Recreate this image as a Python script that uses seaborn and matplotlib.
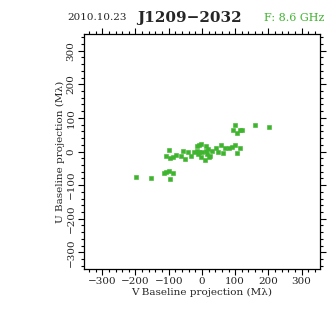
import matplotlib
matplotlib.use("Agg")
import matplotlib.pyplot as plt
from matplotlib.ticker import MultipleLocator
import seaborn as sns
import pandas as pd

# UV coverage samples (M-lambda)
v_proj = [-198, -153, -115, -107, -99, -87, -95, -107, -99, -95, -87, -79,
          -63, -56, -50, -42, -34, -24, -16, -16, -8, -2, -12, -4, -8, 0,
          8, 12, 16, 20, 24, 30, 12, 18, 42, 48, 56, 62, 69, 81, 89, 99,
          114, 107, 99, 94, 106, 114, 122, 160, 203]
u_proj = [-76, -78, -65, -60, -58, -65, -82, -12, 4, -19, -15, -11,
          -12, 2, -22, 0, -12, 0, 3, 15, 18, 23, -7, -15, -2, -2,
          -25, 3, -7, -17, -12, 1, 15, 8, 10, -2, 20, -4, 11, 10, 13, 18,
          10, -5, 80, 65, 56, 63, 65, 78, 74]

obs_date = "2010.10.23"
source = "J1209\u22122032"
freq_label = "F: 8.6 GHz"
green = "#3fb42e"

sns.set_style("ticks")
plt.rcParams["font.family"] = ["DejaVu Serif", "DejaVu Sans"]

df = pd.DataFrame({"v": v_proj, "u": u_proj})

fig = plt.figure(figsize=(3.36, 3.36), dpi=100)
ax = fig.add_axes([0.25, 0.199, 0.702, 0.70])

sns.scatterplot(data=df, x="v", y="u", ax=ax, color=green, marker="s",
                s=6, linewidth=0.4, edgecolor=green)

ax.set_xlim(-355, 355)
ax.set_ylim(-350, 350)
ax.xaxis.set_major_locator(MultipleLocator(100))
ax.xaxis.set_minor_locator(MultipleLocator(20))
ax.yaxis.set_major_locator(MultipleLocator(100))
ax.yaxis.set_minor_locator(MultipleLocator(20))

ax.tick_params(which="both", direction="out", top=True, right=True,
               color="black", width=0.8, labelsize=7.5, pad=2)
ax.tick_params(which="major", length=4)
ax.tick_params(which="minor", length=2.2)
ax.tick_params(axis="y", labelrotation=90)
for lbl in ax.get_yticklabels():
    lbl.set_verticalalignment("center")

for sp in ax.spines.values():
    sp.set_linewidth(0.9)
    sp.set_color("black")

ax.set_xlabel("V Baseline projection (M\u03bb)", fontsize=7.5, labelpad=1)
ax.set_ylabel("U Baseline projection (M\u03bb)", fontsize=7.5, labelpad=1)

fig.text(0.29, 0.947, obs_date, fontsize=7.5, ha="center", va="center")
fig.text(0.565, 0.947, source, fontsize=11, fontweight="bold",
         ha="center", va="center")
fig.text(0.877, 0.947, freq_label, fontsize=8, color=green,
         ha="center", va="center")

fig.savefig("out.png", dpi=100, facecolor="white")
